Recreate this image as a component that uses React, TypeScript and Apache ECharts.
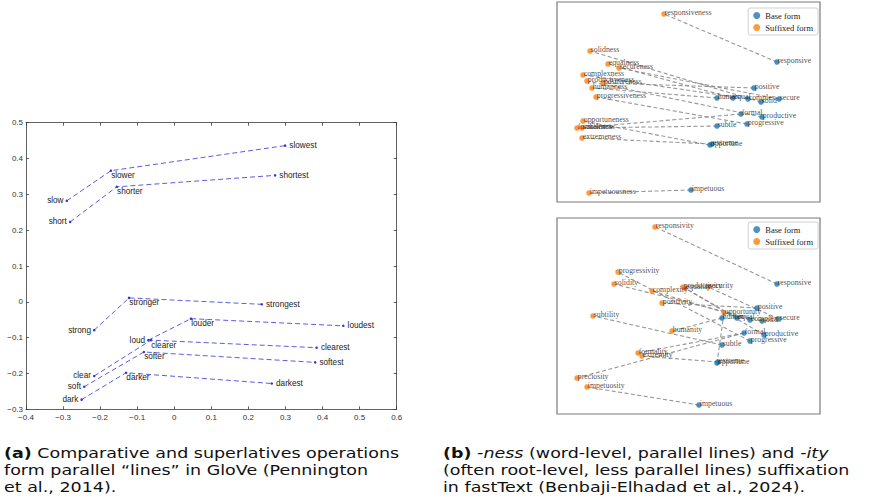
import React, { useEffect, useRef } from "react";
import * as echarts from "echarts";

// ---------- Panel (a): GloVe comparative / superlative ----------
const gloveWords: string[][] = [
  ["slow", "slower", "slowest"],
  ["short", "shorter", "shortest"],
  ["strong", "stronger", "strongest"],
  ["loud", "louder", "loudest"],
  ["clear", "clearer", "clearest"],
  ["soft", "softer", "softest"],
  ["dark", "darker", "darkest"],
];
const gloveX: number[][] = [
  [-0.29, -0.171, 0.299],
  [-0.281, -0.155, 0.272],
  [-0.216, -0.122, 0.236],
  [-0.07, 0.045, 0.456],
  [-0.216, -0.063, 0.384],
  [-0.243, -0.082, 0.38],
  [-0.25, -0.13, 0.263],
];
const gloveY: number[][] = [
  [0.282, 0.366, 0.436],
  [0.223, 0.321, 0.353],
  [-0.079, 0.011, -0.007],
  [-0.107, -0.047, -0.067],
  [-0.207, -0.107, -0.128],
  [-0.237, -0.14, -0.169],
  [-0.273, -0.198, -0.228],
];
const gloveXTicks = { min: -0.4, max: 0.6, step: 0.1 };
const gloveYTicks = { min: -0.3, max: 0.5, step: 0.1 };

// ---------- Panel (b): fastText -ness / -ity (projection units) ----------
const baseWords = ["responsive", "positive", "human", "equal", "complex", "solid", "secure", "formal", "productive", "progressive", "subtle", "opportune", "extreme", "impetuous"];

const nessWords = ["responsiveness", "positiveness", "humanness", "equalness", "complexness", "solidness", "secureness", "formalness", "productiveness", "progressiveness", "subtleness", "opportuneness", "extremeness", "impetuousness"];
const nessBaseXY: number[][] = [[220, 60], [197, 86], [160, 96], [176, 96], [191, 97], [204, 100], [222, 97], [184, 112], [205, 115], [190, 122], [160, 124], [153, 143], [155, 142], [134, 188]];
const nessSufXY: number[][] = [[107, 12], [46, 81], [35, 86], [51, 62], [26, 73], [33, 49], [62, 66], [20, 126], [30, 79], [39, 95], [25, 126], [26, 119], [25, 136], [32, 191]];

const ityWords = ["responsivity", "positivity", "humanity", "equality", "complexity", "solidity", "security", "formality", "productivity", "progressivity", "subtility", "opportunity", "extremity", "impetuosity", "preciosity"];
const ityLinkedBase = [0, 1, 2, 3, 4, 5, 6, 7, 8, 9, 10, 11, 12, 13, 7];
const ityBaseXY: number[][] = [[220, 66], [200, 90], [165, 100], [180, 100], [193, 102], [205, 103], [222, 101], [187, 115], [207, 117], [193, 123], [165, 127], [160, 145], [161, 144], [142, 187]];
const itySufXY: number[][] = [[98, 9], [105, 85], [115, 113], [128, 70], [95, 73], [57, 66], [151, 69], [81, 135], [126, 69], [61, 54], [36, 98], [167, 95], [85, 138], [30, 169], [20, 160]];

const legendNames = ["Base form", "Suffixed form"];

const BLUE = "#1f77b4";
const ORANGE = "#ff7f0e";
const SANS = "Liberation Sans, Arial, sans-serif";
const SERIF = "Liberation Serif, Times New Roman, serif";

function fmtTick(v: number): string {
  if (Math.abs(v) < 1e-9) return "0";
  const s = Math.abs(v).toFixed(1);
  return v < 0 ? "\u2212" + s : s;
}

function buildOption(): any {
  const series: any[] = [];

  // Panel (a)
  gloveWords.forEach((words, g) => {
    series.push({
      type: "line",
      xAxisIndex: 0,
      yAxisIndex: 0,
      symbol: "circle",
      symbolSize: 2.5,
      itemStyle: { color: "#3434d8" },
      lineStyle: { color: "#4a4ae0", width: 0.9, type: [5, 3] },
      label: { show: true, formatter: "{b}", fontSize: 8.2, color: "#222", fontFamily: SANS },
      data: words.map((w, i) => ({
        name: w,
        value: [gloveX[g][i], gloveY[g][i]],
        label:
          i === 0
            ? { position: "left", distance: 2 }
            : i === 1
            ? { position: "right", distance: 0, offset: [-1, 5] }
            : { position: "right", distance: 3 },
      })),
      z: 3,
    });
  });

  const rightLabel = {
    show: true,
    formatter: "{b}",
    position: "right",
    distance: 0,
    offset: [-2, -1.5],
    fontSize: 7.8,
    color: "#222",
    fontFamily: SERIF,
  };

  // Panel (b) top: -ness
  series.push({
    type: "lines",
    coordinateSystem: "cartesian2d",
    xAxisIndex: 2,
    yAxisIndex: 2,
    silent: true,
    lineStyle: { color: "#8c8c8c", width: 1.1, type: [4, 2.5], opacity: 0.9 },
    data: nessSufXY.map((s, i) => ({ coords: [nessBaseXY[i], s] })),
    z: 1,
  });
  series.push({
    type: "scatter",
    name: legendNames[0],
    xAxisIndex: 2,
    yAxisIndex: 2,
    symbolSize: 5.5,
    itemStyle: { color: BLUE, opacity: 0.8 },
    label: rightLabel,
    data: baseWords.map((w, i) => ({ name: w, value: nessBaseXY[i] })),
    z: 3,
  });
  series.push({
    type: "scatter",
    name: legendNames[1],
    xAxisIndex: 2,
    yAxisIndex: 2,
    symbolSize: 5.5,
    itemStyle: { color: ORANGE, opacity: 0.8 },
    label: rightLabel,
    data: nessWords.map((w, i) => ({ name: w, value: nessSufXY[i] })),
    z: 3,
  });

  // Panel (b) bottom: -ity
  series.push({
    type: "lines",
    coordinateSystem: "cartesian2d",
    xAxisIndex: 3,
    yAxisIndex: 3,
    silent: true,
    lineStyle: { color: "#8c8c8c", width: 1.1, type: [4, 2.5], opacity: 0.9 },
    data: itySufXY.map((s, i) => ({ coords: [ityBaseXY[ityLinkedBase[i]], s] })),
    z: 1,
  });
  series.push({
    type: "scatter",
    name: legendNames[0],
    xAxisIndex: 3,
    yAxisIndex: 3,
    symbolSize: 5.5,
    itemStyle: { color: BLUE, opacity: 0.8 },
    label: rightLabel,
    data: baseWords.map((w, i) => ({ name: w, value: ityBaseXY[i] })),
    z: 3,
  });
  series.push({
    type: "scatter",
    name: legendNames[1],
    xAxisIndex: 3,
    yAxisIndex: 3,
    symbolSize: 5.5,
    itemStyle: { color: ORANGE, opacity: 0.8 },
    label: rightLabel,
    data: ityWords.map((w, i) => ({ name: w, value: itySufXY[i] })),
    z: 3,
  });

  const boxLine = { show: true, onZero: false, lineStyle: { color: "#3a3a3a", width: 0.8 } };
  const inTick = { show: true, inside: true, length: 3, lineStyle: { color: "#3a3a3a", width: 0.8 } };
  const tickLabel = { fontSize: 8, color: "#333", fontFamily: SANS, formatter: fmtTick };

  const legendBase = {
    data: legendNames,
    orient: "vertical",
    right: 878 - 818,
    icon: "circle",
    itemWidth: 7,
    itemHeight: 7,
    itemGap: 3,
    padding: [3, 5, 3, 5],
    borderColor: "#d0d0d0",
    borderWidth: 1,
    borderRadius: 2,
    backgroundColor: "#fff",
    textStyle: { fontFamily: SERIF, fontSize: 8.5, color: "#222" },
    selectedMode: false,
  };

  const rightBox = { show: true, borderColor: "#7a7a7a", borderWidth: 1.2, backgroundColor: "transparent" };

  const capFont = "DejaVu Sans, sans-serif";
  const capStyle = (text: string, rich: any) => ({
    text,
    fontFamily: capFont,
    fontSize: 14,
    fill: "#111",
    rich,
  });
  const richA = { b: { fontWeight: "bold", fontFamily: capFont, fontSize: 14, fill: "#111" } };
  const richB = {
    b: { fontWeight: "bold", fontFamily: capFont, fontSize: 14, fill: "#111" },
    i: { fontStyle: "italic", fontFamily: capFont, fontSize: 14, fill: "#111" },
  };
  const capLines = [
    { x: 4, y: 453, text: "{b|(a)} Comparative and superlatives operations", rich: richA },
    { x: 4, y: 470, text: "form parallel \u201Clines\u201D in GloVe (Pennington", rich: richA },
    { x: 4, y: 487, text: "et al., 2014).", rich: richA },
    { x: 443, y: 453, text: "{b|(b)} {i|-ness} (word-level, parallel lines) and {i|-ity}", rich: richB },
    { x: 443, y: 470, text: "(often root-level, less parallel lines) suffixation", rich: richB },
    { x: 443, y: 487, text: "in fastText (Benbaji-Elhadad et al., 2024).", rich: richB },
  ];

  return {
    animation: false,
    backgroundColor: "#fff",
    grid: [
      { left: 26, top: 122.7, width: 370.7, height: 286.6, show: false },
      { left: 557, top: 2, width: 263, height: 200, ...rightBox },
      { left: 557, top: 218, width: 263, height: 196, ...rightBox },
    ],
    xAxis: [
      {
        gridIndex: 0, type: "value", min: gloveXTicks.min, max: gloveXTicks.max, interval: gloveXTicks.step,
        axisLine: boxLine, axisTick: inTick, splitLine: { show: false },
        axisLabel: { ...tickLabel, margin: 4 },
      },
      {
        gridIndex: 0, type: "value", position: "top", min: gloveXTicks.min, max: gloveXTicks.max, interval: gloveXTicks.step,
        axisLine: boxLine, axisTick: inTick, splitLine: { show: false }, axisLabel: { show: false },
      },
      { gridIndex: 1, type: "value", min: 0, max: 263, show: false },
      { gridIndex: 2, type: "value", min: 0, max: 263, show: false },
    ],
    yAxis: [
      {
        gridIndex: 0, type: "value", min: gloveYTicks.min, max: gloveYTicks.max, interval: gloveYTicks.step,
        axisLine: boxLine, axisTick: inTick, splitLine: { show: false },
        axisLabel: { ...tickLabel, margin: 3 },
      },
      {
        gridIndex: 0, type: "value", position: "right", min: gloveYTicks.min, max: gloveYTicks.max, interval: gloveYTicks.step,
        axisLine: boxLine, axisTick: inTick, splitLine: { show: false }, axisLabel: { show: false },
      },
      { gridIndex: 1, type: "value", min: 0, max: 200, inverse: true, show: false },
      { gridIndex: 2, type: "value", min: 0, max: 196, inverse: true, show: false },
    ],
    legend: [
      { ...legendBase, top: 8 },
      { ...legendBase, top: 222 },
    ],
    graphic: capLines.map((l) => ({
      type: "text",
      x: l.x,
      y: l.y,
      scaleX: 1.25,
      style: { ...capStyle(l.text, l.rich), verticalAlign: "middle" },
      silent: true,
    })),
    series,
  };
}

export default function App() {
  const ref = useRef<HTMLDivElement>(null);
  useEffect(() => {
    if (!ref.current) return;
    const chart = echarts.init(ref.current, null, { renderer: "svg" });
    chart.setOption(buildOption());
    return () => chart.dispose();
  }, []);
  return (
    <div
      ref={ref}
      style={{ position: "fixed", left: 0, top: 0, width: 878, height: 499, background: "#fff" }}
    />
  );
}
